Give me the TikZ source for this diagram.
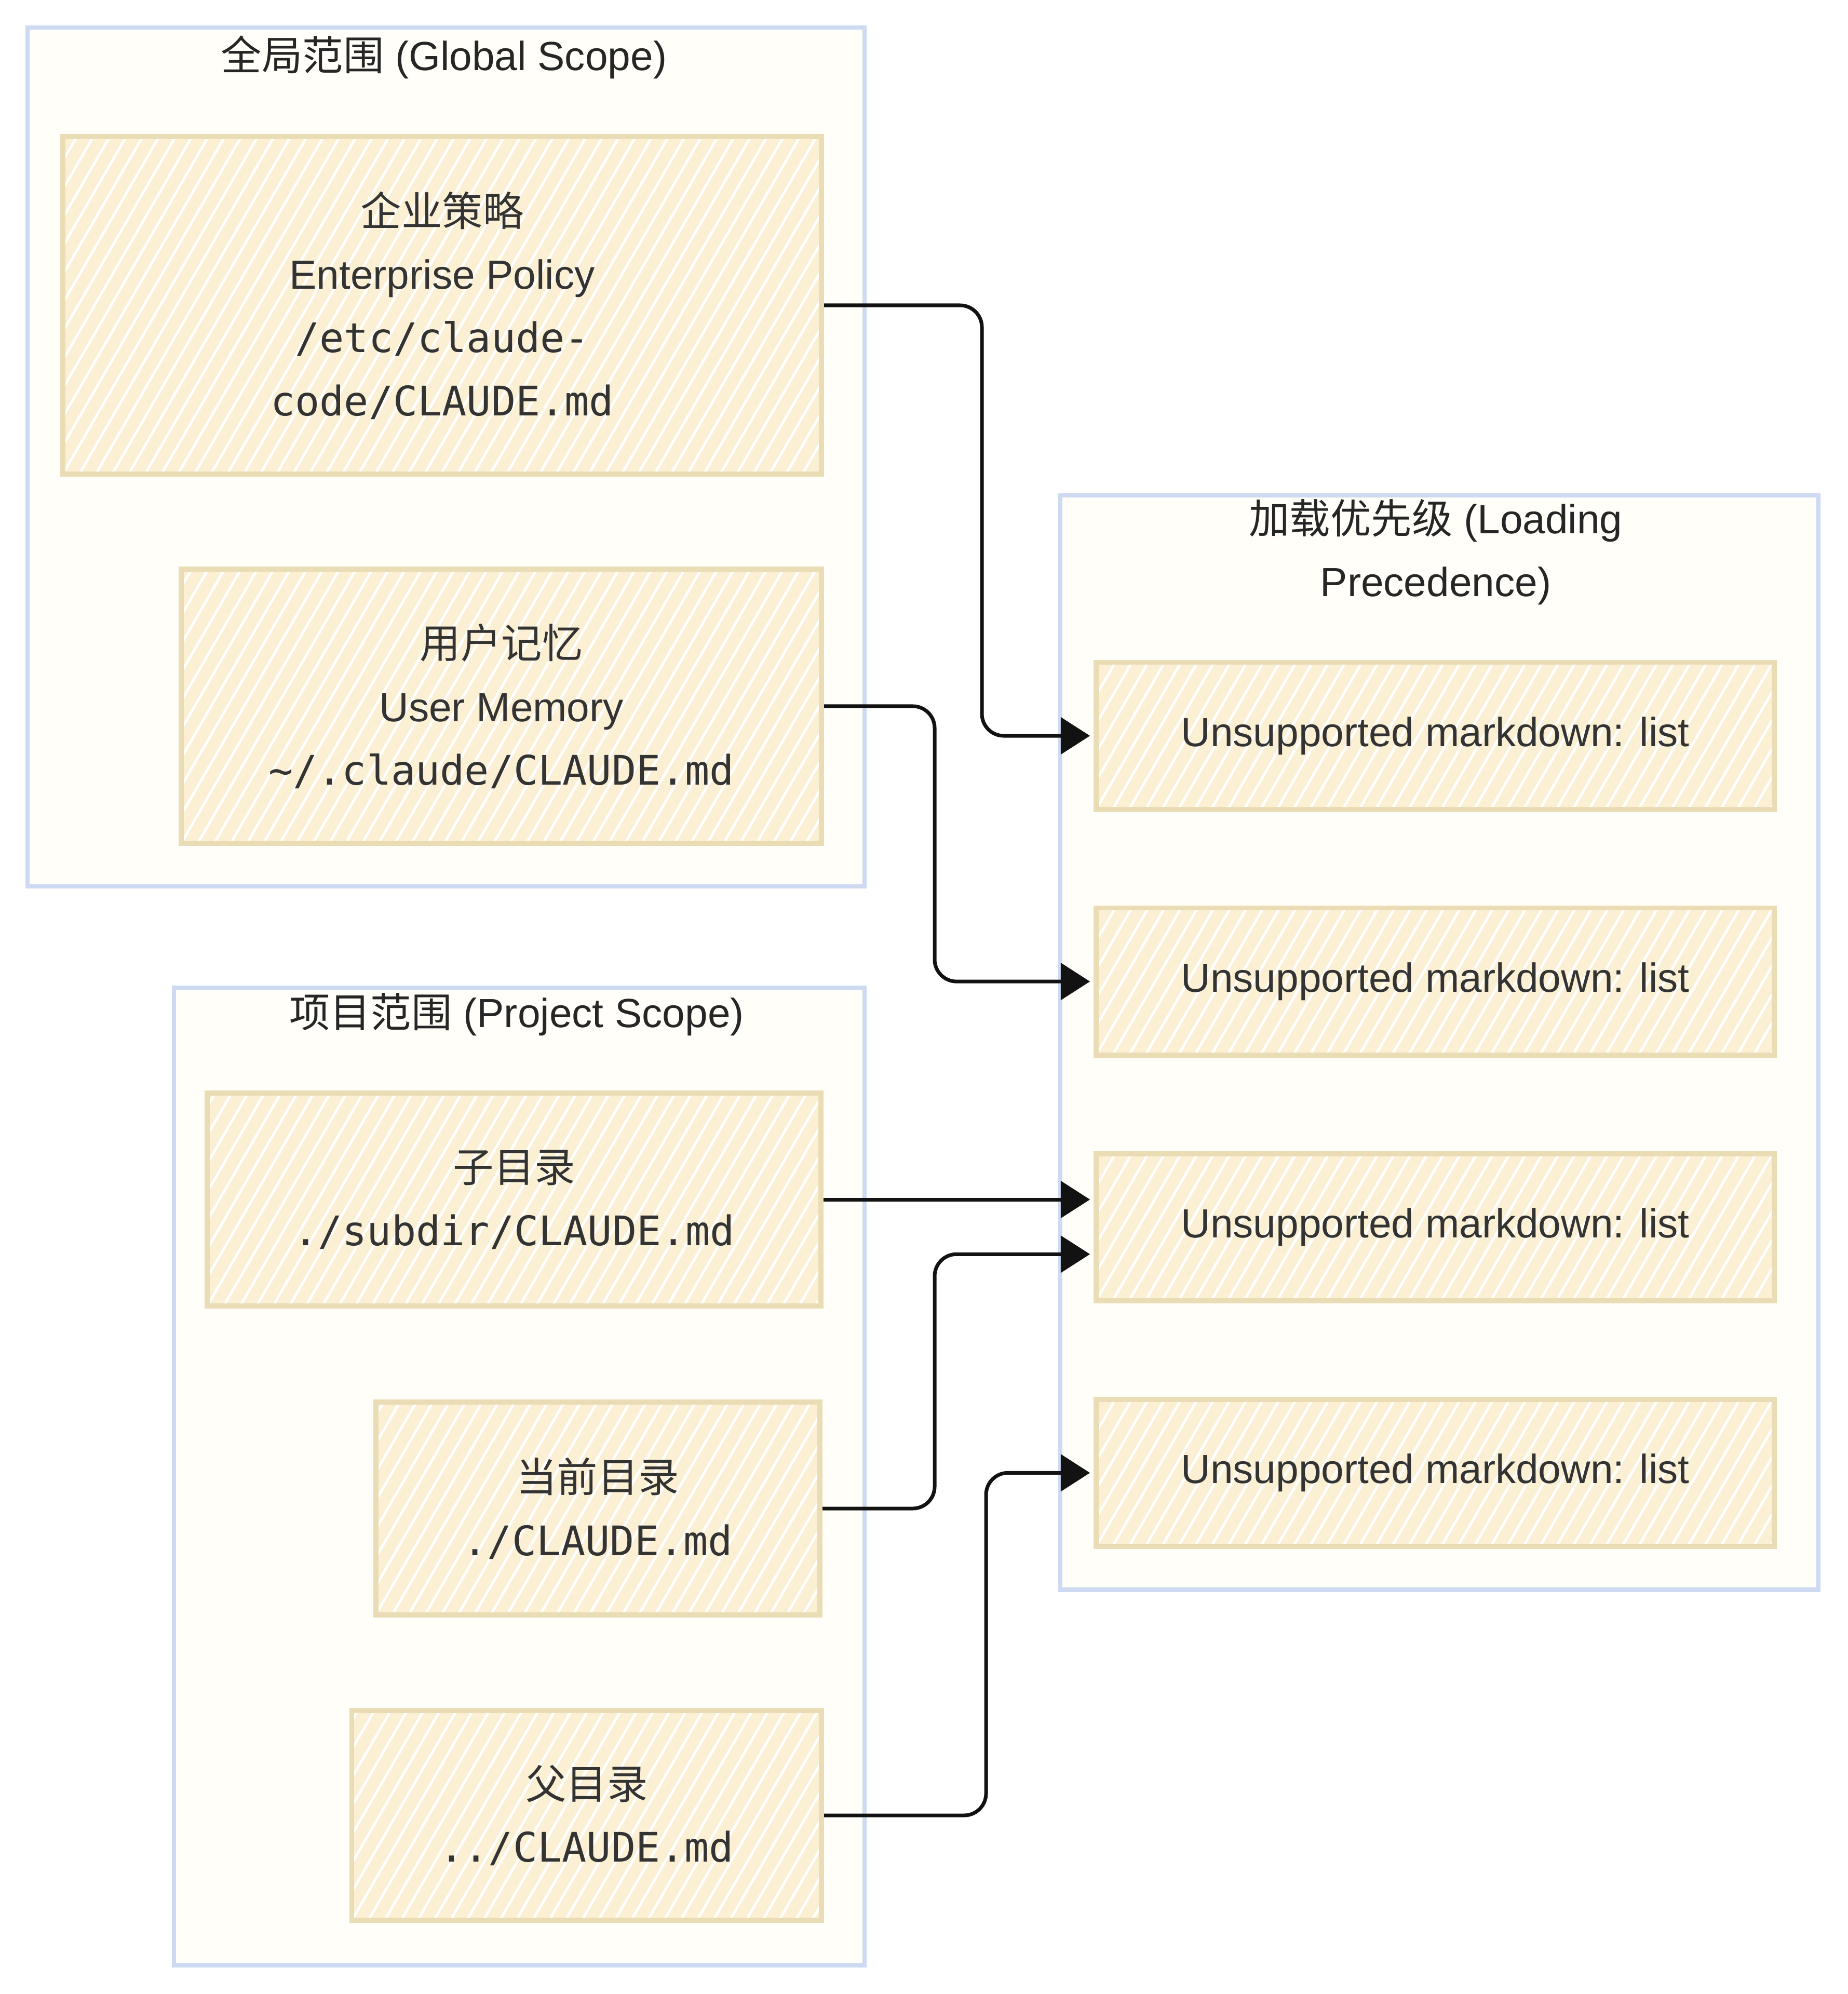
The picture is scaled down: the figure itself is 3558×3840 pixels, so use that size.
\documentclass[tikz,border=0pt]{standalone}
\usepackage{fontspec}
\setmainfont{Liberation Sans}
\setmonofont{DejaVu Sans Mono}
\newfontfamily\cjk{Noto Sans CJK SC}
\usepackage{tikz}
\usetikzlibrary{arrows.meta,positioning}
\definecolor{ink}{HTML}{333333}
\definecolor{boxfill}{HTML}{FCF0D4}
\definecolor{boxline}{HTML}{EADCB5}
\definecolor{clusfill}{HTML}{FFFEF8}
\definecolor{clusline}{HTML}{CEDAF1}
\newcommand{\zh}[1]{{\cjk #1}}
\tikzset{
  clus/.style={draw=clusline, line width=2.4pt, fill=clusfill, anchor=north west, inner sep=0pt},
  fbox/.style={draw=boxline, line width=2.8pt, fill=boxfill, align=center, text=ink, inner sep=0pt,
    font=\fontsize{22.3pt}{34.6pt}\selectfont,
    path picture={\foreach \k in {-20,...,48}
      \draw[white, line width=1.4pt] ([xshift=\k*9pt]path picture bounding box.south west) -- ++(60:10cm);}},
  ttl/.style={align=center, text=black!85, font=\fontsize{22.3pt}{34.6pt}\selectfont},
  flow/.style={-{Triangle[length=16pt,width=20pt]}, draw=black!93, line width=2pt, rounded corners=12pt, shorten >=2pt},
}

\begin{document}
\begin{tikzpicture}[x=0.01cm, y=-0.01cm]
\useasboundingbox (0,0) rectangle (3558,3840);
% scopes
\node[clus, minimum width=16.11cm, minimum height=16.53cm] (glob) at (49,49) {};
\node[clus, minimum width=13.29cm, minimum height=18.81cm] (proj) at (331,1898) {};
\node[clus, minimum width=14.59cm, minimum height=21.06cm] (prec) at (2038,950) {};
\node[ttl] (globt) at (855,110) {\zh{全局范围} (Global Scope)};
\node[ttl] (projt) at (995,1954) {\zh{项目范围} (Project Scope)};
\node[ttl] (prect) at (2765,1063) {\zh{加载优先级} (Loading\\Precedence)};
% memory files
\node[fbox, anchor=east, minimum width=14.6cm, minimum height=6.49cm] (ent) at (1587,588)
  {\zh{企业策略}\\Enterprise Policy\\\texttt{/etc/claude-}\\\texttt{code/CLAUDE.md}};
\node[fbox, anchor=east, minimum width=12.32cm, minimum height=5.27cm] (mem) at (1587,1360)
  {\zh{用户记忆}\\User Memory\\\texttt{\textasciitilde/.claude/CLAUDE.md}};
\node[fbox, anchor=east, minimum width=11.81cm, minimum height=4.09cm] (sub) at (1586,2310)
  {\zh{子目录}\\\texttt{./subdir/CLAUDE.md}};
\node[fbox, anchor=east, minimum width=8.55cm, minimum height=4.09cm] (cur) at (1584,2905)
  {\zh{当前目录}\\\texttt{./CLAUDE.md}};
\node[fbox, anchor=east, minimum width=9.04cm, minimum height=4.04cm] (par) at (1587,3496)
  {\zh{父目录}\\\texttt{../CLAUDE.md}};
% precedence list
\node[fbox, minimum width=13.05cm, minimum height=2.83cm] (p1) at (2764,1417) {Unsupported markdown: list};
\node[fbox, minimum width=13.05cm, minimum height=2.83cm, below=1.8cm of p1] (p2) {Unsupported markdown: list};
\node[fbox, minimum width=13.05cm, minimum height=2.83cm, below=1.8cm of p2] (p3) {Unsupported markdown: list};
\node[fbox, minimum width=13.05cm, minimum height=2.83cm, below=1.8cm of p3] (p4) {Unsupported markdown: list};
% links
\draw[flow] (ent.east) -- ++(304,0) |- (p1.west);
\draw[flow] (mem.east) -- ++(213,0) |- (p2.west);
\draw[flow] (sub.east) -- (sub.east -| p3.west);
\draw[flow] (cur.east) -- ++(216,0) |- ([yshift=-0.52cm]p3.west);
\draw[flow] (par.east) -- ++(312,0) |- (p4.west);
\end{tikzpicture}
\end{document}
